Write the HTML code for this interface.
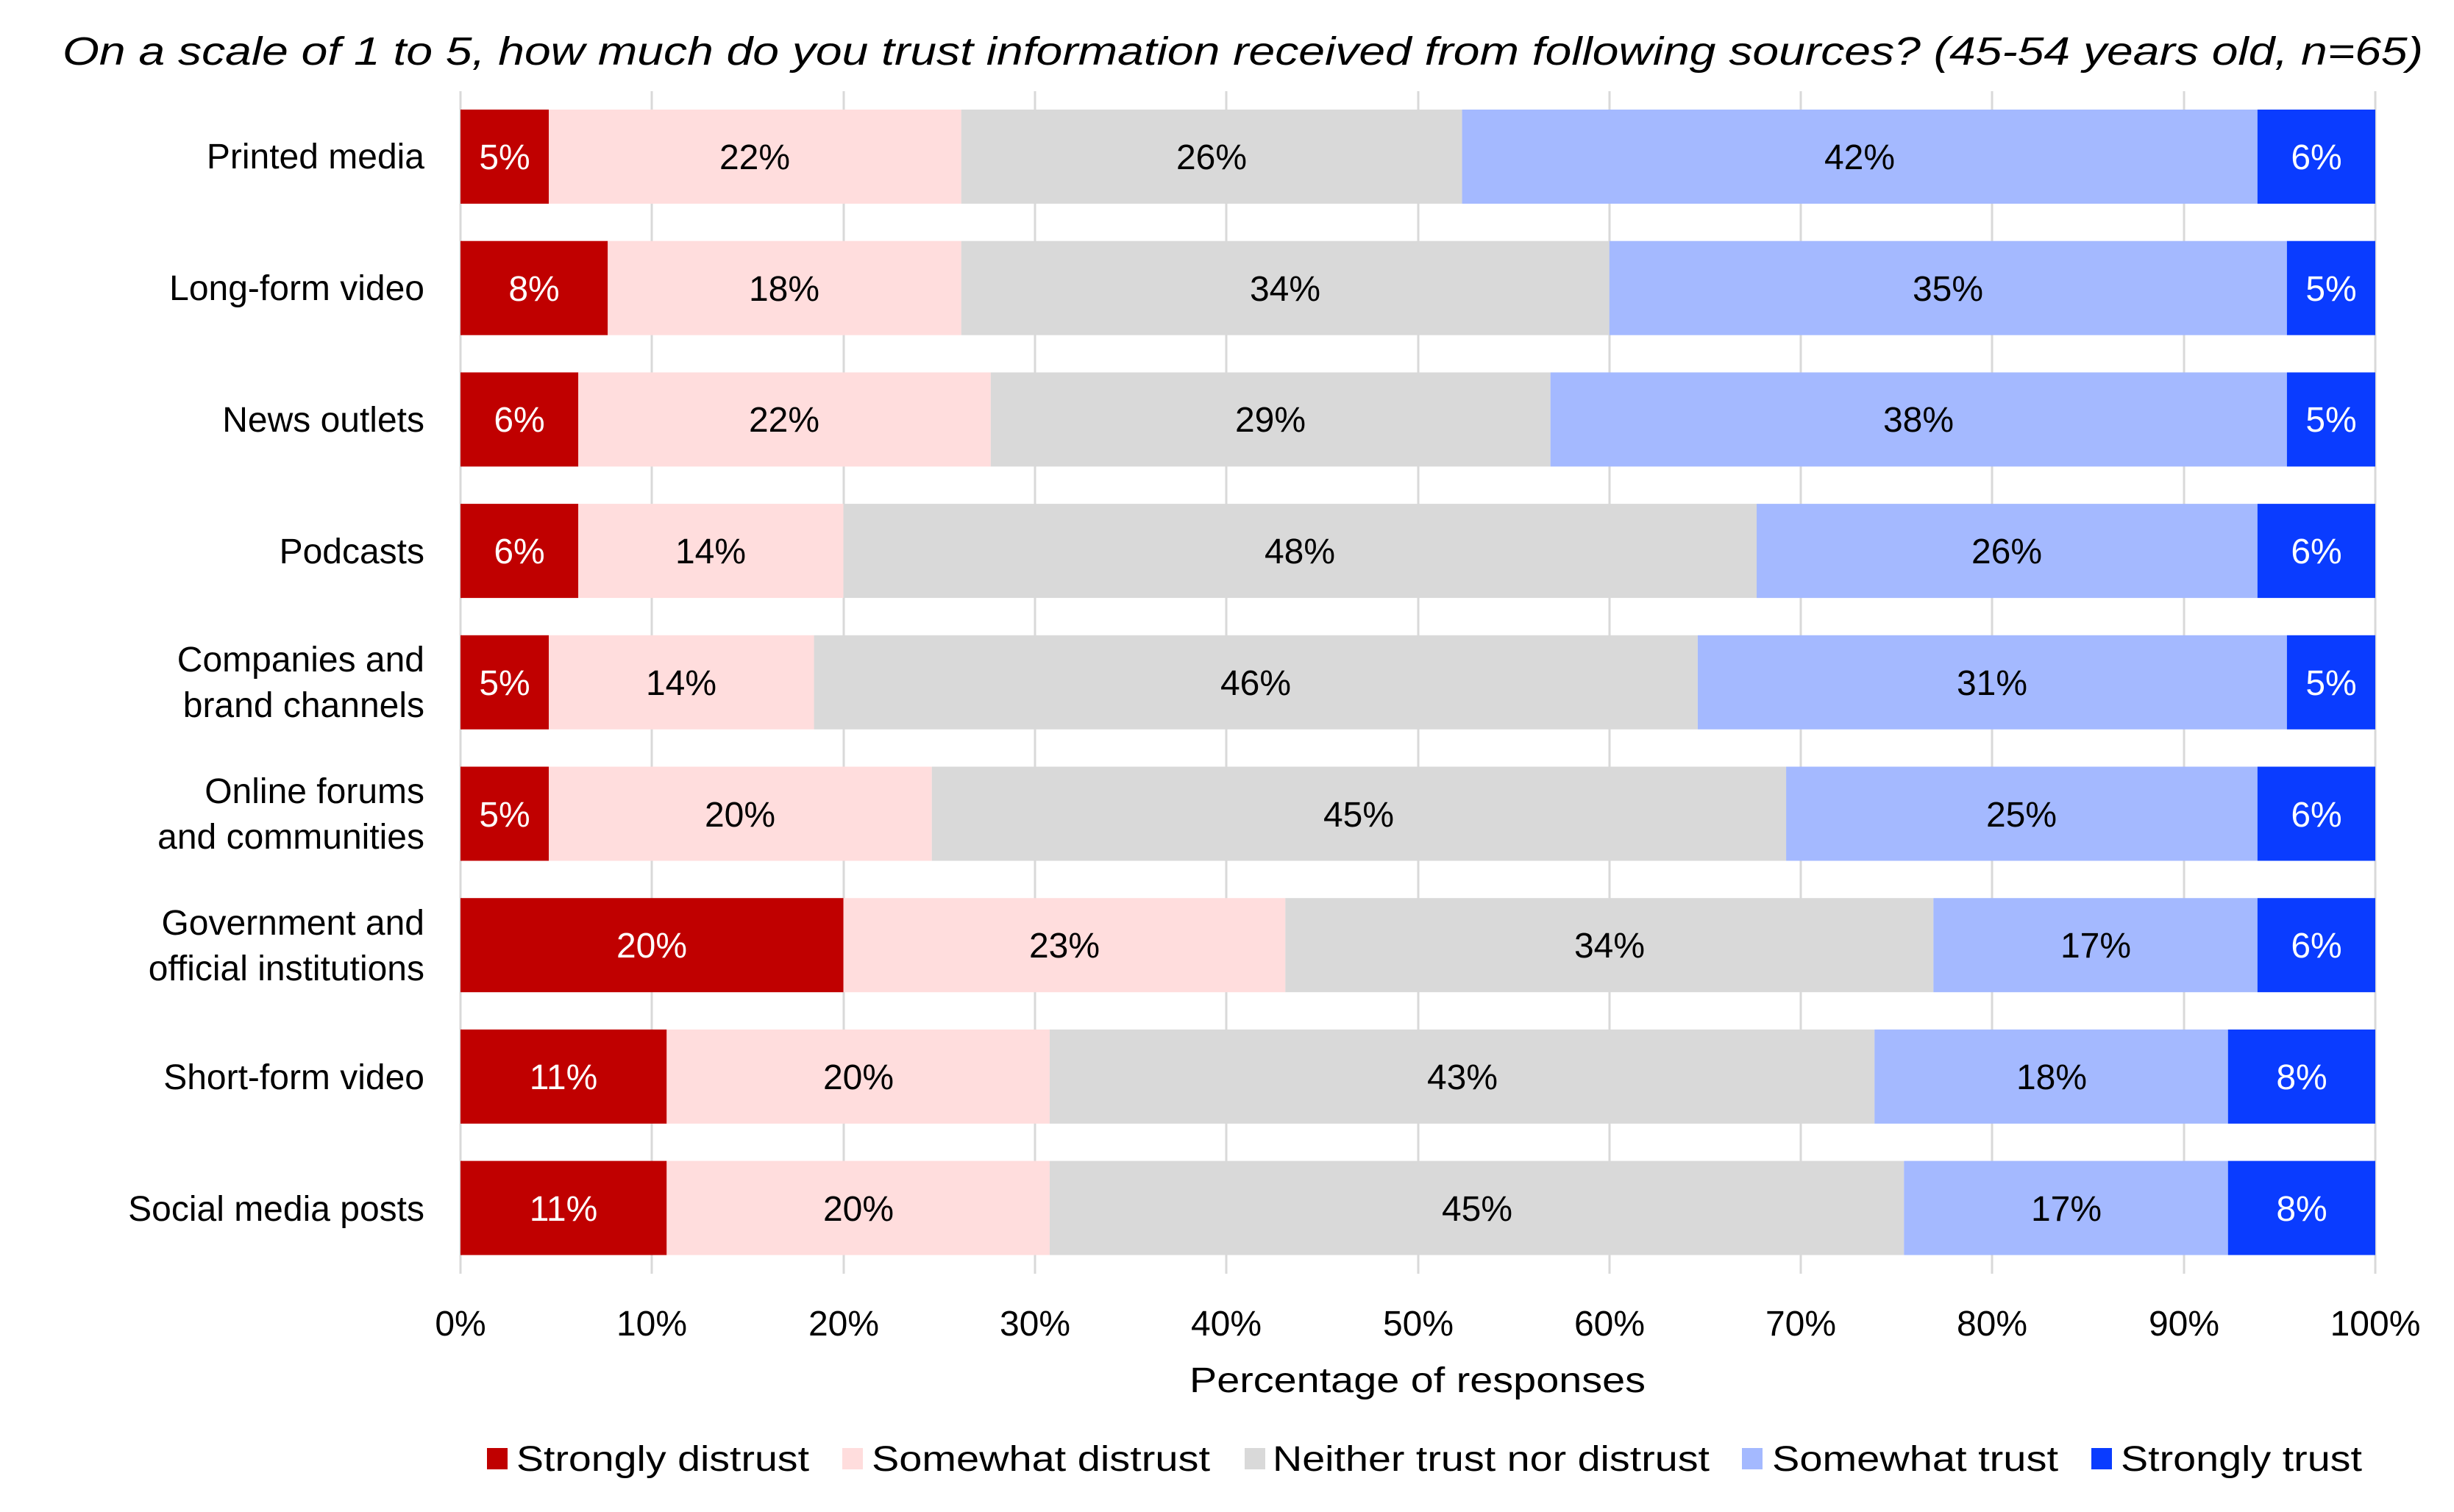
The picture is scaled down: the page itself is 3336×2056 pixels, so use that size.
<!DOCTYPE html>
<html><head><meta charset="utf-8"><style>html,body{margin:0;padding:0;background:#fff}svg{display:block}</style></head>
<body>
<svg xmlns="http://www.w3.org/2000/svg" width="3336" height="2056" viewBox="0 0 3336 2056" font-family="Liberation Sans, Arial, sans-serif">
<rect width="3336" height="2056" fill="#fff"/>
<text x="85" y="88" font-size="54" font-style="italic" textLength="3209" lengthAdjust="spacingAndGlyphs">On a scale of 1 to 5, how much do you trust information received from following sources? (45-54 years old, n=65)</text>
<g stroke="#d9d9d9" stroke-width="3">
<line x1="626" y1="124" x2="626" y2="1732"/><line x1="886" y1="124" x2="886" y2="1732"/><line x1="1147" y1="124" x2="1147" y2="1732"/><line x1="1407" y1="124" x2="1407" y2="1732"/><line x1="1667" y1="124" x2="1667" y2="1732"/><line x1="1928" y1="124" x2="1928" y2="1732"/><line x1="2188" y1="124" x2="2188" y2="1732"/><line x1="2448" y1="124" x2="2448" y2="1732"/><line x1="2708" y1="124" x2="2708" y2="1732"/><line x1="2969" y1="124" x2="2969" y2="1732"/><line x1="3229" y1="124" x2="3229" y2="1732"/>
</g>
<g transform="translate(626,0) scale(40.046,1)">
<g transform="translate(0,149)"><rect x="0" width="3" height="128" fill="#c00000"/><rect x="3" width="14" height="128" fill="#ffdddd"/><rect x="17" width="17" height="128" fill="#d9d9d9"/><rect x="34" width="27" height="128" fill="#a4b9ff"/><rect x="61" width="4" height="128" fill="#0a3cff"/></g>
<g transform="translate(0,327.7)"><rect x="0" width="5" height="128" fill="#c00000"/><rect x="5" width="12" height="128" fill="#ffdddd"/><rect x="17" width="22" height="128" fill="#d9d9d9"/><rect x="39" width="23" height="128" fill="#a4b9ff"/><rect x="62" width="3" height="128" fill="#0a3cff"/></g>
<g transform="translate(0,506.4)"><rect x="0" width="4" height="128" fill="#c00000"/><rect x="4" width="14" height="128" fill="#ffdddd"/><rect x="18" width="19" height="128" fill="#d9d9d9"/><rect x="37" width="25" height="128" fill="#a4b9ff"/><rect x="62" width="3" height="128" fill="#0a3cff"/></g>
<g transform="translate(0,685.1)"><rect x="0" width="4" height="128" fill="#c00000"/><rect x="4" width="9" height="128" fill="#ffdddd"/><rect x="13" width="31" height="128" fill="#d9d9d9"/><rect x="44" width="17" height="128" fill="#a4b9ff"/><rect x="61" width="4" height="128" fill="#0a3cff"/></g>
<g transform="translate(0,863.8)"><rect x="0" width="3" height="128" fill="#c00000"/><rect x="3" width="9" height="128" fill="#ffdddd"/><rect x="12" width="30" height="128" fill="#d9d9d9"/><rect x="42" width="20" height="128" fill="#a4b9ff"/><rect x="62" width="3" height="128" fill="#0a3cff"/></g>
<g transform="translate(0,1042.5)"><rect x="0" width="3" height="128" fill="#c00000"/><rect x="3" width="13" height="128" fill="#ffdddd"/><rect x="16" width="29" height="128" fill="#d9d9d9"/><rect x="45" width="16" height="128" fill="#a4b9ff"/><rect x="61" width="4" height="128" fill="#0a3cff"/></g>
<g transform="translate(0,1221.2)"><rect x="0" width="13" height="128" fill="#c00000"/><rect x="13" width="15" height="128" fill="#ffdddd"/><rect x="28" width="22" height="128" fill="#d9d9d9"/><rect x="50" width="11" height="128" fill="#a4b9ff"/><rect x="61" width="4" height="128" fill="#0a3cff"/></g>
<g transform="translate(0,1399.9)"><rect x="0" width="7" height="128" fill="#c00000"/><rect x="7" width="13" height="128" fill="#ffdddd"/><rect x="20" width="28" height="128" fill="#d9d9d9"/><rect x="48" width="12" height="128" fill="#a4b9ff"/><rect x="60" width="5" height="128" fill="#0a3cff"/></g>
<g transform="translate(0,1578.6)"><rect x="0" width="7" height="128" fill="#c00000"/><rect x="7" width="13" height="128" fill="#ffdddd"/><rect x="20" width="29" height="128" fill="#d9d9d9"/><rect x="49" width="11" height="128" fill="#a4b9ff"/><rect x="60" width="5" height="128" fill="#0a3cff"/></g>
</g>
<g font-size="48" text-anchor="middle">
<text x="686" y="230" fill="#fff">5%</text><text x="1026" y="230">22%</text><text x="1647" y="230">26%</text><text x="2528" y="230">42%</text><text x="3149" y="230" fill="#fff">6%</text>
<text x="726" y="409" fill="#fff">8%</text><text x="1066" y="409">18%</text><text x="1747" y="409">34%</text><text x="2648" y="409">35%</text><text x="3169" y="409" fill="#fff">5%</text>
<text x="706" y="587" fill="#fff">6%</text><text x="1066" y="587">22%</text><text x="1727" y="587">29%</text><text x="2608" y="587">38%</text><text x="3169" y="587" fill="#fff">5%</text>
<text x="706" y="766" fill="#fff">6%</text><text x="966" y="766">14%</text><text x="1767" y="766">48%</text><text x="2728" y="766">26%</text><text x="3149" y="766" fill="#fff">6%</text>
<text x="686" y="945" fill="#fff">5%</text><text x="926" y="945">14%</text><text x="1707" y="945">46%</text><text x="2708" y="945">31%</text><text x="3169" y="945" fill="#fff">5%</text>
<text x="686" y="1124" fill="#fff">5%</text><text x="1006" y="1124">20%</text><text x="1847" y="1124">45%</text><text x="2748" y="1124">25%</text><text x="3149" y="1124" fill="#fff">6%</text>
<text x="886" y="1302" fill="#fff">20%</text><text x="1447" y="1302">23%</text><text x="2188" y="1302">34%</text><text x="2849" y="1302">17%</text><text x="3149" y="1302" fill="#fff">6%</text>
<text x="766" y="1481" fill="#fff">11%</text><text x="1167" y="1481">20%</text><text x="1988" y="1481">43%</text><text x="2789" y="1481">18%</text><text x="3129" y="1481" fill="#fff">8%</text>
<text x="766" y="1660" fill="#fff">11%</text><text x="1167" y="1660">20%</text><text x="2008" y="1660">45%</text><text x="2809" y="1660">17%</text><text x="3129" y="1660" fill="#fff">8%</text>
</g>
<g font-size="48" text-anchor="middle">
<text x="626" y="1816">0%</text><text x="886" y="1816">10%</text><text x="1147" y="1816">20%</text><text x="1407" y="1816">30%</text><text x="1667" y="1816">40%</text><text x="1928" y="1816">50%</text><text x="2188" y="1816">60%</text><text x="2448" y="1816">70%</text><text x="2708" y="1816">80%</text><text x="2969" y="1816">90%</text><text x="3229" y="1816">100%</text>
</g>
<text x="1617" y="1893" font-size="48" textLength="620" lengthAdjust="spacingAndGlyphs">Percentage of responses</text>
<g font-size="48">
<rect x="662" y="1969" width="28" height="29" fill="#c00000"/><text x="702" y="2000" textLength="398" lengthAdjust="spacingAndGlyphs">Strongly distrust</text>
<rect x="1145" y="1969" width="28" height="29" fill="#ffdddd"/><text x="1185" y="2000" textLength="460" lengthAdjust="spacingAndGlyphs">Somewhat distrust</text>
<rect x="1692" y="1969" width="28" height="29" fill="#d9d9d9"/><text x="1730" y="2000" textLength="594" lengthAdjust="spacingAndGlyphs">Neither trust nor distrust</text>
<rect x="2368" y="1969" width="28" height="29" fill="#a4b9ff"/><text x="2409" y="2000" textLength="389" lengthAdjust="spacingAndGlyphs">Somewhat trust</text>
<rect x="2843" y="1969" width="28" height="29" fill="#0a3cff"/><text x="2883" y="2000" textLength="328" lengthAdjust="spacingAndGlyphs">Strongly trust</text>
</g>
<g font-size="48" text-anchor="end">
<text x="577" y="229">Printed media</text>
<text x="577" y="408">Long-form video</text>
<text x="577" y="587">News outlets</text>
<text x="577" y="766">Podcasts</text>
<text x="577" y="913">Companies and</text><text x="577" y="975">brand channels</text>
<text x="577" y="1092">Online forums</text><text x="577" y="1154">and communities</text>
<text x="577" y="1271">Government and</text><text x="577" y="1333">official institutions</text>
<text x="577" y="1481">Short-form video</text>
<text x="577" y="1660">Social media posts</text>
</g>
</svg>
</body></html>
